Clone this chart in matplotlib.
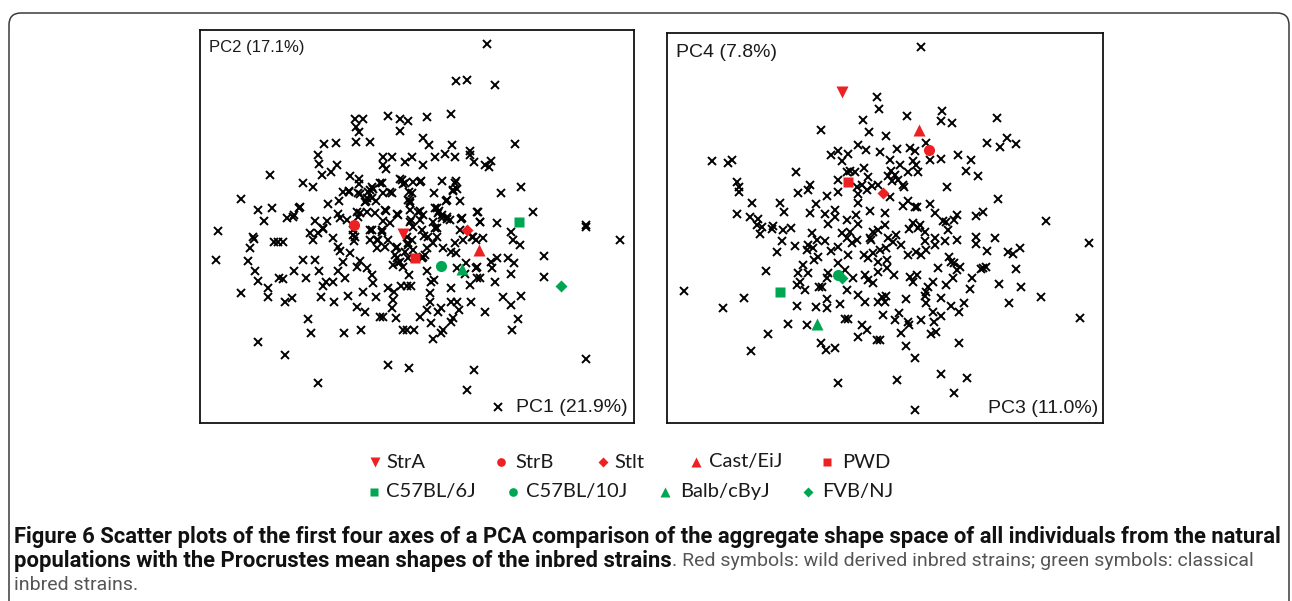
import numpy as np
import matplotlib.pyplot as plt
from matplotlib.patches import FancyBboxPatch
from matplotlib.transforms import IdentityTransform

W, H = 1292, 601

# --- PCA scores of the natural population individuals ---
# panel 1: PC1 (x) vs PC2 (y, axis runs downward as read)
pc12_pts = [
    (355,119),(363,119),(388,116),(400,119),(408,121),(356,127),(359,132),(400,131),(324,144),(336,143),
    (356,142),(370,142),(318,155),(319,164),(383,157),(392,157),(383,165),(386,169),(405,162),(412,157),
    (270,175),(303,183),(313,187),(322,175),(331,172),(337,165),(350,176),(359,179),(359,184),(372,187),
    (382,183),(400,179),(403,184),(413,182),(241,199),(258,210),(272,208),(264,221),(287,218),(294,215),
    (299,208),(328,204),(339,201),(343,192),(349,191),(360,194),(367,198),(373,189),(383,193),(392,193),
    (366,201),(376,201),(409,192),(410,201),(386,211),(397,214),(410,210),(411,220),(338,214),(315,221),
    (327,221),(340,218),(347,220),(357,212),(367,212),(375,213),(383,221),(390,223),
    (487,44),(456,81),(467,80),(495,85),(427,117),(451,114),(423,138),(429,145),(452,145),(515,144),
    (435,157),(445,154),(455,157),(470,151),(470,155),(474,162),(485,165),(489,167),(491,161),(423,165),
    (421,181),(442,181),(456,181),(453,191),(457,189),(434,193),(460,201),(446,201),(501,193),(521,187),
    (420,211),(435,208),(439,211),(442,215),(447,219),(461,219),(477,212),(480,222),(497,223),(533,212),
    (586,225),
    (218,231),(253,237),(254,239),(250,248),(274,242),(278,242),(283,242),(216,260),(248,261),(255,271),
    (258,281),(241,293),(268,288),(268,297),(279,278),(283,279),(285,302),(292,298),(294,271),(303,260),
    (306,278),(315,260),(319,271),(321,297),(323,286),(326,282),(333,282),(334,302),(338,271),(345,278),
    (348,296),(357,307),(365,312),(363,292),(376,297),(380,317),(383,317),(392,308),(396,318),(388,288),
    (394,292),(393,300),(401,286),(407,286),(411,286),(409,275),(308,319),(311,333),(344,333),(361,330),
    (403,330),(407,330),(414,330),(258,342),(285,355),(318,383),(388,365),(409,368),(310,233),(313,240),
    (323,229),(333,238),(338,247),(340,251),(353,235),(354,241),(343,262),(350,253),(357,267),(360,261),
    (367,268),(372,275),(373,283),(377,240),(377,248),(382,232),(372,230),(396,248),(400,262),(403,267),
    (408,243),(412,240),(413,250),(397,258),(393,265),
    (586,227),(620,240),(544,256),(544,277),(586,359),(474,370),(467,390),(498,407),(435,228),(460,230),
    (473,237),(476,240),(455,243),(451,252),(456,253),(443,248),(433,243),(424,236),(425,255),(422,258),
    (511,232),(513,240),(520,245),(508,258),(514,263),(497,258),(491,262),(492,268),(511,274),(495,282),
    (476,268),(477,278),(480,278),(466,263),(465,274),(470,285),(451,288),(451,302),(457,302),(459,310),
    (471,302),(485,312),(503,297),(511,305),(521,296),(518,319),(512,330),(453,318),(451,322),(443,330),
    (441,333),(433,339),(431,323),(427,310),(438,312),(441,308),(430,302),(430,293),(431,282),(434,280),
    (427,271),(420,317),
    (293,217),(300,207),(323,228),(318,233),(408,200),(410,203),(418,212),(423,215),(447,200),(437,208),
    (438,213),(442,218),(447,217),(450,220),(433,222),(437,228),(428,237),(422,230),(420,220),(410,222),
    (413,227),(407,237),(398,215),(385,210),(370,230),(382,230),(360,213),(358,217),(365,202),(353,230),
    (355,237),(370,240),(378,240),(388,240),(385,247),(397,247),(408,245),(405,252),(395,255),(398,263),
    (408,258),(423,257),(427,248),(437,237),(462,218),(463,240),(472,237),(478,212),(480,222),(483,238),
    (477,267),(457,268),(349,192),(358,193),(368,192),(372,198),(370,190),(380,183),(390,192),(402,180),
    (405,183),(420,182),(412,193),(453,190),(455,183),
]

# panel 2: PC3 (x) vs PC4 (y, axis runs downward as read)
pc34_pts = [
    (877,97),(879,109),(863,120),(869,132),(886,136),(821,130),(858,145),(866,150),(880,152),(848,154),
    (838,151),(831,155),(842,161),(712,161),(728,163),(732,160),(796,172),(737,182),(739,187),(739,192),
    (752,203),(737,214),(750,217),(758,219),(757,225),(780,203),(784,212),(773,226),(798,193),(808,190),
    (810,185),(816,204),(827,196),(838,192),(838,180),(847,172),(850,171),(855,172),(864,168),(868,177),
    (862,185),(857,187),(858,194),(867,190),(872,186),(878,185),(858,203),(870,211),(856,215),(847,220),
    (835,210),(835,217),(825,214),(810,213),(828,224),(858,224),
    (921,47),(907,116),(942,111),(941,121),(952,123),(997,118),(926,143),(897,149),(910,148),(915,151),
    (913,161),(916,165),(930,160),(941,159),(958,155),(971,160),(966,171),(978,176),(987,143),(1000,147),
    (1007,138),(1016,144),(890,160),(900,165),(908,172),(918,172),(891,171),(895,175),(898,180),(903,185),
    (888,176),(892,181),(904,187),(947,187),(998,199),(890,197),(908,201),(915,207),(930,204),(935,213),
    (903,206),(917,207),(957,215),(954,220),(943,221),(946,222),(976,216),(983,212),(1046,221),(885,213),
    (913,223),(920,225),(885,225),
    (684,291),(723,308),(744,298),(751,351),(768,334),(766,271),(777,252),(782,241),(788,324),(797,306),
    (807,325),(816,307),(827,299),(827,308),(840,304),(845,319),(848,319),(821,343),(826,350),(835,348),
    (838,383),(762,227),(760,234),(772,229),(783,230),(791,228),(795,246),(808,245),(807,250),(813,248),
    (818,257),(814,260),(812,233),(817,240),(825,241),(831,251),(838,247),(842,233),(847,238),(850,232),
    (852,243),(857,240),(848,255),(838,263),(845,270),(803,265),(798,273),(808,273),(800,282),(805,290),
    (797,285),(828,273),(827,278),(822,287),(819,287),(847,290),(853,278),(865,275),(868,280),(873,283),
    (878,272),(858,295),(865,302),(878,302),(882,297),(883,315),(862,325),(867,330),(858,337),(877,340),
    (880,340),(868,258),(873,253),(880,250),(878,262),(864,255),(873,232),(870,238),(878,230),(871,240),
    (1089,243),(1080,318),(1041,297),(1009,303),(1021,287),(999,284),(1016,269),(1008,252),(1013,254),(1020,248),
    (995,238),(987,251),(976,237),(976,244),(957,240),(945,241),(935,238),(935,245),(925,241),(926,250),
    (921,255),(916,252),(908,255),(909,229),(918,228),(925,232),(948,230),(896,235),(893,242),(888,238),
    (901,245),(886,248),(949,257),(951,262),(954,263),(957,270),(960,267),(938,268),(887,260),(887,268),
    (894,275),(910,277),(913,282),(917,275),(972,278),(981,269),(986,267),(983,268),(953,278),(946,285),
    (933,282),(928,287),(926,292),(925,296),(941,298),(970,289),(964,303),(959,312),(951,306),(941,316),
    (934,322),(933,312),(926,303),(921,320),(906,299),(886,296),(885,302),(899,313),(895,320),(908,322),
    (909,325),(901,333),(931,334),(936,332),(959,343),(906,346),(915,358),(941,374),(967,378),(897,380),
    (954,393),(915,410),
]

# --- Procrustes mean shapes of the inbred strains ---
strains = ['StrA', 'StrB', 'Stlt', 'Cast/EiJ', 'PWD', 'C57BL/6J', 'C57BL/10J', 'Balb/cByJ', 'FVB/NJ']
strain_pc1 = [403, 354, 467, 479, 415, 519, 441, 462, 561]
strain_pc2 = [234, 225, 230, 250, 258, 222, 266, 269, 286]
strain_pc3 = [842, 929, 883, 919, 848, 780, 838, 817, 842]
strain_pc4 = [92, 150, 193, 130, 182, 292, 275, 324, 278]

RED = '#ED2024'
GREEN = '#00A651'
strain_marker = ['v', 'o', 'D', '^', 's', 's', 'o', '^', 'D']
strain_color = [RED] * 5 + [GREEN] * 4
strain_ms = {'v': 9, 'o': 8, 'D': 6.5, '^': 9, 's': 7}

fig = plt.figure(figsize=(W / 100, H / 100), dpi=100)


def px_axes(x0, y0, x1, y1):
    ax = fig.add_axes([x0 / W, 1 - y1 / H, (x1 - x0) / W, (y1 - y0) / H])
    ax.set_xlim(x0, x1)
    ax.set_ylim(y1, y0)
    ax.set_xticks([])
    ax.set_yticks([])
    for s in ax.spines.values():
        s.set_linewidth(1.3)
        s.set_color('#111111')
    return ax


ax1 = px_axes(200, 30, 634, 423)
ax2 = px_axes(667, 33, 1103, 423)

for ax, pts, sx, sy in [(ax1, pc12_pts, strain_pc1, strain_pc2),
                        (ax2, pc34_pts, strain_pc3, strain_pc4)]:
    xs, ys = np.array(pts).T
    ax.plot(xs, ys, ls='none', marker='x', ms=5.2, mew=1.4, color='black')
    for i in range(len(strains)):
        m = strain_marker[i]
        ax.plot(sx[i], sy[i], ls='none', marker=m, ms=strain_ms[m],
                color=strain_color[i], mec='none', zorder=5)

lab = dict(family=['Liberation Sans', 'DejaVu Sans'], color='#1a1a1a')
ax1.text(0.02, 0.955, 'PC2 (17.1%)', transform=ax1.transAxes, fontsize=12, va='center', ha='left', **lab)
ax1.text(0.985, 0.04, 'PC1 (21.9%)', transform=ax1.transAxes, fontsize=14, va='center', ha='right', **lab)
ax2.text(0.02, 0.95, 'PC4 (7.8%)', transform=ax2.transAxes, fontsize=14, va='center', ha='left', **lab)
ax2.text(0.99, 0.036, 'PC3 (11.0%)', transform=ax2.transAxes, fontsize=14, va='center', ha='right', **lab)

# legend, placed by hand in pixel space
lg = fig.add_axes([0, 0, 1, 1])
lg.set_xlim(0, W)
lg.set_ylim(H, 0)
lg.axis('off')
leg_rows = [
    [(0, 375, 386), (1, 501, 515), (2, 603, 614), (3, 696, 709), (4, 827, 842)],
    [(5, 374, 386), (6, 513, 526), (7, 665, 680), (8, 808, 822)],
]
for row_y, row in zip([462, 492], leg_rows):
    for i, mx, tx in row:
        m = strain_marker[i]
        lg.plot(mx, row_y, ls='none', marker=m, ms=strain_ms[m] * 0.78,
                color=strain_color[i], mec='none')
        lg.text(tx, row_y, strains[i], fontsize=14.5, va='center', ha='left',
                family=['Lato', 'DejaVu Sans'], color='#1a1a1a')

# outer rounded frame
box = FancyBboxPatch((9, -40), 1280, H - 13 + 40, boxstyle='round,pad=0,rounding_size=12',
                     transform=IdentityTransform(), fill=False, ec='#3a3a3a', lw=1.1)
fig.patches.append(box)

# caption
cap_font = ['Liberation Sans Narrow', 'Roboto', 'DejaVu Sans']
renderer = fig.canvas.get_renderer()


def fit(t, width):
    w = t.get_window_extent(renderer).width
    t.set_fontsize(t.get_fontsize() * width / w)


c1 = fig.text(14 / W, 1 - 537 / H, 'Figure 6 Scatter plots of the first four axes of a PCA comparison of the aggregate '
              'shape space of all individuals from the natural', fontsize=12, fontweight='bold',
              family=cap_font, color='#111111', va='center', ha='left')
fit(c1, 1264)
c2 = fig.text(14 / W, 1 - 561 / H, 'populations with the Procrustes mean shapes of the inbred strains',
              fontsize=c1.get_fontsize(), fontweight='bold', family=cap_font, color='#111111',
              va='center', ha='left')
x_end = c2.get_window_extent(renderer).x1
c3 = fig.text(x_end / W, 1 - 561 / H, '. Red symbols: wild derived inbred strains; green symbols: classical',
              fontsize=12, family=cap_font, color='#555555', va='center', ha='left')
fit(c3, 1248 - x_end)
fig.text(14 / W, 1 - 585 / H, 'inbred strains.', fontsize=c3.get_fontsize(), family=cap_font,
         color='#555555', va='center', ha='left')

fig.savefig('out.png', dpi=100)
